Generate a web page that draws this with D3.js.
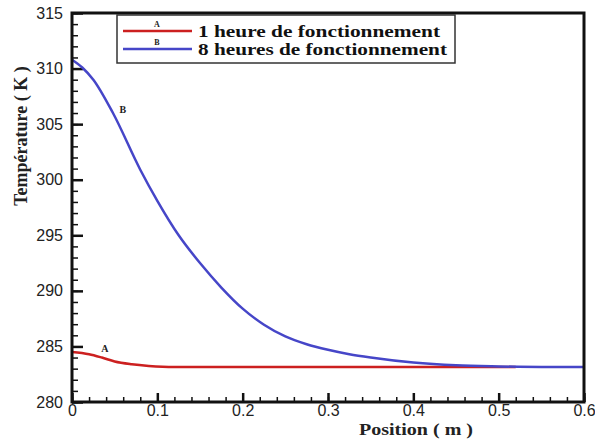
<!DOCTYPE html>
<html>
<head>
<meta charset="utf-8">
<script src="https://cdn.jsdelivr.net/npm/d3@7"></script>
<style>
  body { margin: 0; background: #fff; }
  svg { display: block; }
</style>
</head>
<body>
<div id="chart"></div>
<script>
// values
const xPosB = [0, 0.012, 0.025, 0.048, 0.08, 0.1, 0.125, 0.15, 0.175, 0.2, 0.225, 0.25, 0.275, 0.3, 0.325, 0.35, 0.4, 0.45, 0.5, 0.55, 0.6];
const tempB = [310.8, 310.1, 309.0, 306.0, 300.9, 298.1, 295.0, 292.5, 290.3, 288.4, 286.95, 285.9, 285.2, 284.7, 284.3, 284.0, 283.55, 283.3, 283.2, 283.15, 283.15];
const xPosA = [0, 0.02, 0.035, 0.05, 0.07, 0.09, 0.12, 0.2, 0.3, 0.4, 0.5, 0.52];
const tempA = [284.5, 284.3, 284.0, 283.65, 283.4, 283.25, 283.15, 283.15, 283.15, 283.15, 283.15, 283.15];
const legendLabels = ['1 heure de fonctionnement', '8 heures de fonctionnement'];
const seriesKeys = ['A', 'B'];
const seriesColors = ['#cc2020', '#4646c8'];
const curveTags = [{ key: 'A', x: 0.0386, y: 284.85 }, { key: 'B', x: 0.0597, y: 306.3 }];
const xTicks = [0, 0.1, 0.2, 0.3, 0.4, 0.5, 0.6];
const yTicks = [280, 285, 290, 295, 300, 305, 310, 315];

const width = 595, height = 441;
const margin = { top: 13, right: 11, bottom: 39, left: 72 };

const svg = d3.select('#chart').append('svg')
  .attr('width', width)
  .attr('height', height);

const x = d3.scaleLinear().domain([0, 0.6]).range([margin.left, width - margin.right]);
const y = d3.scaleLinear().domain([280, 315]).range([height - margin.bottom, margin.top]);

const serif = 'Liberation Serif, Times New Roman, serif';
const sans = 'Liberation Sans, Arial, sans-serif';

// minor ticks
svg.append('g')
  .attr('transform', `translate(0,${y(280)})`)
  .call(d3.axisBottom(x).tickValues(d3.range(0, 0.6001, 0.02)).tickSize(-5).tickFormat(''))
  .call(g => g.select('.domain').remove())
  .call(g => g.selectAll('line').attr('stroke', '#111').attr('stroke-width', 1.5));
svg.append('g')
  .attr('transform', `translate(${x(0)},0)`)
  .call(d3.axisLeft(y).tickValues(d3.range(280, 315.1, 1)).tickSize(-6).tickFormat(''))
  .call(g => g.select('.domain').remove())
  .call(g => g.selectAll('line').attr('stroke', '#111').attr('stroke-width', 1.5));

// major ticks + labels
svg.append('g')
  .attr('transform', `translate(0,${y(280)})`)
  .call(d3.axisBottom(x).tickValues(xTicks).tickSize(-9).tickPadding(3).tickFormat(d => d === 0 ? '0' : d3.format('.1f')(d)))
  .call(g => g.select('.domain').remove())
  .call(g => g.selectAll('line').attr('stroke', '#111').attr('stroke-width', 2.5))
  .call(g => g.selectAll('text').attr('fill', '#222').attr('font-family', sans).attr('font-size', 16));
svg.append('g')
  .attr('transform', `translate(${x(0)},0)`)
  .call(d3.axisLeft(y).tickValues(yTicks).tickSize(-11).tickPadding(9).tickFormat(d3.format('d')))
  .call(g => g.select('.domain').remove())
  .call(g => g.selectAll('line').attr('stroke', '#111').attr('stroke-width', 2.5))
  .call(g => g.selectAll('text').attr('fill', '#222').attr('font-family', sans).attr('font-size', 16));

// curves
const line = d3.line().x(d => x(d[0])).y(d => y(d[1])).curve(d3.curveMonotoneX);
const seriesData = [d3.zip(xPosA, tempA), d3.zip(xPosB, tempB)];
seriesData.forEach((pts, i) => {
  svg.append('path')
    .datum(pts)
    .attr('fill', 'none')
    .attr('stroke', seriesColors[i])
    .attr('stroke-width', 2.5)
    .attr('d', line);
});

// frame
svg.append('rect')
  .attr('x', x(0)).attr('y', y(315))
  .attr('width', x(0.6) - x(0)).attr('height', y(280) - y(315))
  .attr('fill', 'none').attr('stroke', '#111').attr('stroke-width', 3);

// curve tags
svg.selectAll('.tag').data(curveTags).enter().append('text')
  .attr('x', d => x(d.x)).attr('y', d => y(d.y))
  .attr('text-anchor', 'middle').attr('dy', '0.35em')
  .attr('font-family', serif).attr('font-weight', 'bold').attr('font-size', 10)
  .attr('fill', '#222')
  .text(d => d.key);

// legend
const lg = svg.append('g');
lg.append('rect')
  .attr('x', 117).attr('y', 15).attr('width', 338).attr('height', 48)
  .attr('fill', '#fff').attr('stroke', '#333').attr('stroke-width', 1.5);
legendLabels.forEach((lab, i) => {
  const ly = 31 + i * 18;
  lg.append('line')
    .attr('x1', 123).attr('x2', 192).attr('y1', ly).attr('y2', ly)
    .attr('stroke', seriesColors[i]).attr('stroke-width', 2.5);
  lg.append('text')
    .attr('x', 157).attr('y', ly - 4).attr('text-anchor', 'middle')
    .attr('font-family', serif).attr('font-weight', 'bold').attr('font-size', 8)
    .attr('fill', '#222')
    .text(seriesKeys[i]);
  lg.append('text')
    .attr('x', 198).attr('y', ly).attr('dy', '0.35em')
    .attr('textLength', i === 0 ? 242 : 249).attr('lengthAdjust', 'spacingAndGlyphs')
    .attr('font-family', serif).attr('font-weight', 'bold').attr('font-size', 17)
    .attr('fill', '#111')
    .text(lab);
});

// axis titles
svg.append('text')
  .attr('x', 416).attr('y', 435).attr('text-anchor', 'middle')
  .attr('textLength', 114).attr('lengthAdjust', 'spacingAndGlyphs')
  .attr('font-family', serif).attr('font-weight', 'bold').attr('font-size', 17)
  .attr('fill', '#222')
  .text('Position ( m )');
svg.append('text')
  .attr('transform', 'translate(27,136) rotate(-90)')
  .attr('text-anchor', 'middle')
  .attr('font-family', serif).attr('font-weight', 'bold').attr('font-size', 18)
  .attr('fill', '#222')
  .text('Température ( K )');
</script>
</body>
</html>
